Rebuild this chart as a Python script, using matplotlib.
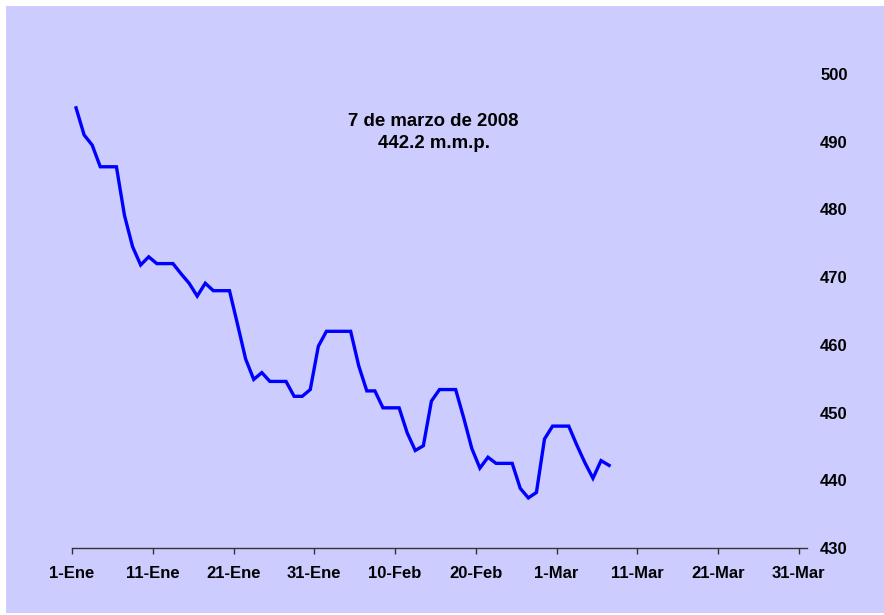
import matplotlib
matplotlib.use('Agg')
import matplotlib.pyplot as plt
from matplotlib.patches import Rectangle
import pandas as pd

plt.rcParams['font.family'] = ['Liberation Sans', 'DejaVu Sans']
plt.rcParams['font.weight'] = 'bold'

# Daily values, 1 Jan 2008 .. 7 Mar 2008 (m.m.p.)
start_date = '2008-01-01'
values = [495.0, 491.0, 489.5, 486.3, 486.3, 486.3, 479.1, 474.5, 471.8, 473.0,
          472.0, 472.0, 472.0, 470.5, 469.1, 467.2, 469.1, 468.0, 468.0, 468.0,
          463.0, 457.9, 454.9, 455.9, 454.6, 454.6, 454.6, 452.4, 452.4, 453.4,
          459.8, 462.0, 462.0, 462.0, 462.0, 456.9, 453.2, 453.2, 450.7, 450.7,
          450.7, 447.0, 444.4, 445.1, 451.7, 453.4, 453.4, 453.4, 449.2, 444.7,
          441.8, 443.4, 442.5, 442.5, 442.5, 438.8, 437.4, 438.2, 446.1, 448.0,
          448.0, 448.0, 445.2, 442.6, 440.3, 442.9, 442.2]
tick_dates = ['2008-01-01', '2008-01-11', '2008-01-21', '2008-01-31', '2008-02-10',
              '2008-02-20', '2008-03-01', '2008-03-11', '2008-03-21', '2008-03-31']
tick_labels = ['1-Ene', '11-Ene', '21-Ene', '31-Ene', '10-Feb',
               '20-Feb', '1-Mar', '11-Mar', '21-Mar', '31-Mar']
y_ticks = [430, 440, 450, 460, 470, 480, 490, 500]
note = '7 de marzo de 2008\n442.2 m.m.p.'

bg = '#CCCCFF'

fig = plt.figure(figsize=(8.84, 6.15), dpi=100)
fig.patch.set_facecolor('white')
# lavender chart area (white margin on top and left)
fig.patches.append(Rectangle((6 / 884, 2 / 615), 878 / 884, 607 / 615,
                             transform=fig.transFigure, facecolor=bg,
                             edgecolor='none', zorder=-10))

ax = fig.add_axes([72 / 884, 67 / 615, 735 / 884, 474 / 615])
ax.set_facecolor('none')
ax.set_zorder(5)

# points sit in the middle of each day (Excel date axis style)
dates = pd.date_range(start_date, periods=len(values)) + pd.Timedelta(hours=12)
ax.plot(dates, values, color='#0000FF', linewidth=2.4, solid_joinstyle='miter')

ax.set_xlim(pd.Timestamp('2008-01-01'), pd.Timestamp('2008-04-01'))
ax.set_ylim(430, 500)

ax.set_xticks([pd.Timestamp(d) for d in tick_dates])
ax.set_xticklabels(tick_labels, fontsize=12, fontweight='bold')
ax.set_yticks(y_ticks)
ax.set_yticklabels([str(v) for v in y_ticks], fontsize=12, fontweight='bold')

ax.yaxis.tick_right()
ax.tick_params(axis='y', length=0, pad=9.5)
ax.tick_params(axis='x', length=4, width=1, color='#333333', pad=9)

for side in ['top', 'left', 'right']:
    ax.spines[side].set_visible(False)
ax.spines['bottom'].set_color('#333333')
ax.spines['bottom'].set_linewidth(1)

ax.text(0.492, 0.877, note, transform=ax.transAxes, ha='center', va='center',
        multialignment='center', fontsize=13.4, fontweight='bold',
        linespacing=1.35)

fig.savefig('out.png', dpi=100, facecolor=fig.get_facecolor())
plt.close(fig)
